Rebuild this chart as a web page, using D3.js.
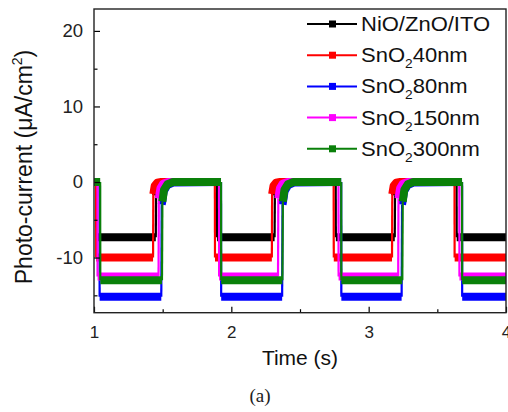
<!DOCTYPE html>
<html><head><meta charset="utf-8">
<script src="https://cdn.jsdelivr.net/npm/d3@7"></script>
<style>
html,body{margin:0;padding:0;background:#fff;}
svg{display:block;font-family:"Liberation Sans",Arial,sans-serif;}
</style></head>
<body>
<svg id="c" width="508" height="412"></svg>
<script>
// ---- data ----
const seriesNames = ["NiO/ZnO/ITO", "SnO2 40nm", "SnO2 80nm", "SnO2 150nm", "SnO2 300nm"];
const legendMain = ["NiO/ZnO/ITO", "SnO", "SnO", "SnO", "SnO"];
const legendSub = ["", "2", "2", "2", "2"];
const legendTail = ["", "40nm", "80nm", "150nm", "300nm"];
const seriesColors = ["#000000", "#ff0000", "#0000ff", "#ff00ff", "#0a800a"];
const xTicks = [1, 2, 3, 4];
const xMinor = [1.5, 2.5, 3.5];
const yTicks = [-10, 0, 10, 20];
const yMinor = [-15, -5, 5, 15];

const nioZnoIto = [[1.000,0],[1.020,0],[1.021,-7.3],[1.450,-7.3],[1.452,-1.8],[1.462,-0.6],[1.480,-0.15],[1.515,0],
  [1.895,0],[1.896,-7.3],[2.315,-7.3],[2.317,-1.8],[2.327,-0.6],[2.345,-0.15],[2.380,0],
  [2.760,0],[2.761,-7.3],[3.190,-7.3],[3.192,-1.8],[3.202,-0.6],[3.220,-0.15],[3.255,0],
  [3.640,0],[3.641,-7.3],[4.000,-7.3]];
const sno40 = [[1.000,0],[1.015,0],[1.016,-10.0],[1.430,-10.0],[1.432,-1.6],[1.442,-0.5],[1.460,-0.1],[1.490,0],
  [1.880,0],[1.881,-10.0],[2.295,-10.0],[2.297,-1.6],[2.307,-0.5],[2.325,-0.1],[2.355,0],
  [2.745,0],[2.746,-10.0],[3.170,-10.0],[3.172,-1.6],[3.182,-0.5],[3.200,-0.1],[3.230,0],
  [3.625,0],[3.626,-10.0],[4.000,-10.0]];
const sno80 = [[1.000,0],[1.040,0],[1.041,-15.2],[1.490,-15.2],[1.493,-3.0],[1.508,-1.2],[1.535,-0.4],[1.580,-0.05],
  [1.925,0],[1.926,-15.2],[2.370,-15.2],[2.373,-3.0],[2.388,-1.2],[2.415,-0.4],[2.460,-0.05],
  [2.800,0],[2.801,-15.2],[3.240,-15.2],[3.243,-3.0],[3.258,-1.2],[3.285,-0.4],[3.330,-0.05],
  [3.680,0],[3.681,-15.2],[4.000,-15.2]];
const sno150 = [[1.000,0],[1.025,0],[1.026,-12.5],[1.470,-12.5],[1.472,-2.2],[1.484,-0.8],[1.505,-0.2],[1.540,0],
  [1.910,0],[1.911,-12.5],[2.340,-12.5],[2.342,-2.2],[2.354,-0.8],[2.375,-0.2],[2.410,0],
  [2.780,0],[2.781,-12.5],[3.215,-12.5],[3.217,-2.2],[3.229,-0.8],[3.250,-0.2],[3.285,0],
  [3.660,0],[3.661,-12.5],[4.000,-12.5]];
const sno300 = [[1.000,0],[1.045,0],[1.046,-13.0],[1.495,-13.0],[1.498,-2.6],[1.510,-1.0],[1.535,-0.3],[1.575,0],
  [1.925,0],[1.926,-13.0],[2.372,-13.0],[2.375,-2.6],[2.387,-1.0],[2.412,-0.3],[2.452,0],
  [2.800,0],[2.801,-13.0],[3.245,-13.0],[3.248,-2.6],[3.260,-1.0],[3.285,-0.3],[3.325,0],
  [3.680,0],[3.681,-13.0],[4.000,-13.0]];
const seriesData = [nioZnoIto, sno40, sno80, sno150, sno300];

// ---- layout ----
const svg = d3.select("#c");
const L = 94, R = 506, T = 9, B = 312.7;
const x = d3.scaleLinear().domain([1, 4]).range([L, R]);
const y = d3.scaleLinear().domain([-17.3, 22.9]).range([B, T]);

svg.append("defs").append("clipPath").attr("id","clip")
  .append("rect").attr("x",L).attr("y",T).attr("width",R-L).attr("height",B-T);

const plot = svg.append("g").attr("clip-path","url(#clip)");
const line = d3.line().x(d=>x(d[0])).y(d=>y(d[1]));

function splitRuns(pts){
  const runs=[]; let cur=[pts[0]]; let type=null;
  for(let i=1;i<pts.length;i++){
    const t = Math.abs(pts[i][1]-pts[i-1][1])>2.5 ? "thin":"thick";
    if(type!==null && t!==type){ runs.push({type, pts:cur}); cur=[pts[i-1]]; }
    type=t; cur.push(pts[i]);
  }
  runs.push({type, pts:cur});
  return runs;
}

seriesData.forEach((pts,i)=>{
  const g = plot.append("g");
  const runs = splitRuns(pts);
  runs.filter(r=>r.type==="thin").forEach(r=>{
    g.append("path").attr("d", line(r.pts)).attr("fill","none")
      .attr("stroke", seriesColors[i]).attr("stroke-width",2.2);
  });
  runs.filter(r=>r.type==="thick").forEach(r=>{
    g.append("path").attr("d", line(r.pts)).attr("fill","none")
      .attr("stroke", seriesColors[i]).attr("stroke-width",8)
      .attr("stroke-linejoin","round").attr("stroke-linecap","butt");
  });
});

// ---- axes ----
const fmt = d => String(d);
const ax = svg.append("g").attr("transform",`translate(0,${B})`)
  .call(d3.axisBottom(x).tickValues(xTicks).tickFormat(fmt).tickSizeInner(-6).tickSizeOuter(0).tickPadding(13));
ax.select(".domain").remove();
ax.selectAll("text").attr("font-size",17).attr("font-family","Liberation Sans, Arial, sans-serif").attr("fill","#222");
const axm = svg.append("g").attr("transform",`translate(0,${B})`)
  .call(d3.axisBottom(x).tickValues(xMinor).tickFormat("").tickSizeInner(-3.5).tickSizeOuter(0));
axm.select(".domain").remove();

const ay = svg.append("g").attr("transform",`translate(${L},0)`)
  .call(d3.axisLeft(y).tickValues(yTicks).tickFormat(fmt).tickSizeInner(-6).tickSizeOuter(0).tickPadding(11));
ay.select(".domain").remove();
ay.selectAll("text").attr("font-size",18.5).attr("font-family","Liberation Sans, Arial, sans-serif").attr("fill","#222");
const aym = svg.append("g").attr("transform",`translate(${L},0)`)
  .call(d3.axisLeft(y).tickValues(yMinor).tickFormat("").tickSizeInner(-3.5).tickSizeOuter(0));
aym.select(".domain").remove();
svg.selectAll(".tick line").attr("stroke","#000").attr("stroke-width",1.2);

svg.append("rect").attr("x",L).attr("y",T).attr("width",R-L).attr("height",B-T)
  .attr("fill","none").attr("stroke","#222").attr("stroke-width",1.4);

// ---- titles ----
svg.append("text").attr("x",300).attr("y",365).attr("text-anchor","middle")
  .attr("font-size",21).attr("fill","#111").text("Time (s)");
const yt = svg.append("text").attr("transform","translate(32,167) rotate(-90)")
  .attr("text-anchor","middle").attr("font-size",23).attr("fill","#111");
yt.append("tspan").text("Photo-current (μA/cm");
yt.append("tspan").attr("font-size",14).attr("dy",-10).text("2");
yt.append("tspan").attr("dy",10).text(")");

svg.append("text").attr("x",260).attr("y",402).attr("text-anchor","middle")
  .attr("font-family","Liberation Serif, serif").attr("font-size",19).attr("fill","#222").text("(a)");

// ---- legend ----
const leg = svg.append("g");
seriesNames.forEach((n,i)=>{
  const by = 31 + i*31.2;
  const cy = by - 7;
  leg.append("line").attr("x1",307).attr("x2",357).attr("y1",cy).attr("y2",cy)
    .attr("stroke",seriesColors[i]).attr("stroke-width",2);
  leg.append("rect").attr("x",329).attr("y",cy-3.5).attr("width",7).attr("height",7).attr("fill",seriesColors[i]);
  const t = leg.append("text").attr("transform",`translate(361,${by}) scale(1.1,1)`)
    .attr("font-size",20).attr("fill","#111");
  t.append("tspan").text(legendMain[i]);
  if(legendSub[i]){
    t.append("tspan").attr("font-size",12.5).attr("dy",6).text(legendSub[i]);
    t.append("tspan").attr("dy",-6).text(legendTail[i]);
  }
});
</script>
</body></html>
